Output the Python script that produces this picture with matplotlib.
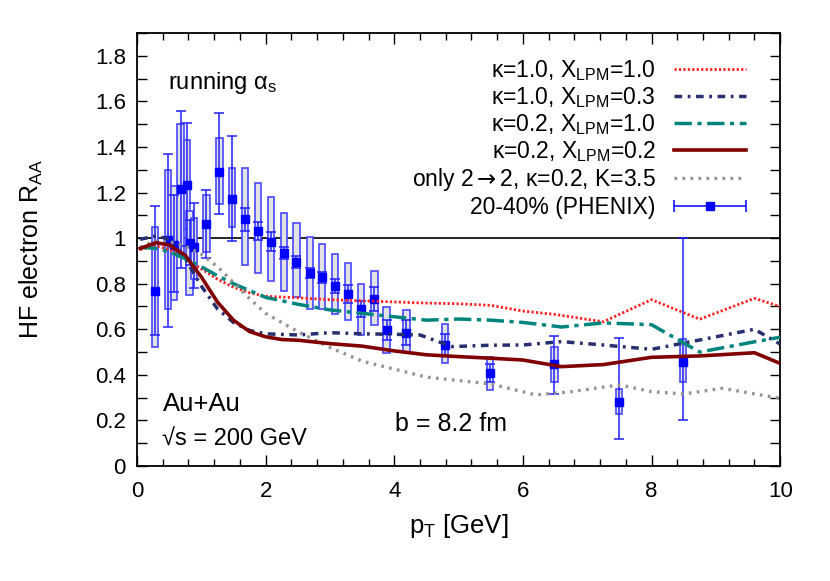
import matplotlib
matplotlib.use('Agg')
import matplotlib.pyplot as plt
import numpy as np
from matplotlib.ticker import MultipleLocator, FuncFormatter
from matplotlib.legend_handler import HandlerErrorbar

plt.rcParams['font.family'] = ['Liberation Sans', 'DejaVu Sans']
plt.rcParams['mathtext.fontset'] = 'custom'
plt.rcParams['mathtext.rm'] = 'Liberation Sans'
plt.rcParams['mathtext.it'] = 'Liberation Sans:italic'
plt.rcParams['mathtext.sf'] = 'DejaVu Sans'

# --- model curves ---
pt_red = [0.05, 0.3, 0.5, 0.75, 1.0, 1.25, 1.5, 1.75, 2.0, 2.5, 3.0, 3.5, 4.0, 4.5,
          5.0, 5.5, 6.0, 6.5, 7.25, 8.0, 8.75, 9.6, 10.0]
raa_red = [0.95, 0.965, 0.95, 0.91, 0.865, 0.82, 0.785, 0.76, 0.745, 0.738, 0.73, 0.725,
           0.72, 0.715, 0.712, 0.705, 0.68, 0.665, 0.633, 0.73, 0.644, 0.736, 0.70]

pt_navy = [0.05, 0.3, 0.5, 0.75, 1.0, 1.25, 1.5, 1.75, 2.0, 2.5, 3.0, 3.5, 4.0, 4.4,
           4.9, 5.5, 6.0, 6.6, 7.25, 8.0, 8.75, 9.6, 10.0]
raa_navy = [0.995, 1.01, 0.995, 0.91, 0.79, 0.69, 0.63, 0.595, 0.58, 0.575, 0.585, 0.58,
            0.578, 0.575, 0.524, 0.53, 0.531, 0.546, 0.531, 0.512, 0.553, 0.60, 0.535]

pt_teal = [0.05, 0.3, 0.5, 0.75, 1.0, 1.25, 1.5, 1.75, 2.0, 2.5, 3.0, 3.5, 4.0, 4.5,
           5.0, 5.5, 6.0, 6.6, 7.25, 8.0, 8.75, 9.6, 10.0]
raa_teal = [0.96, 0.955, 0.94, 0.91, 0.875, 0.835, 0.80, 0.77, 0.74, 0.71, 0.685, 0.67,
            0.655, 0.64, 0.645, 0.64, 0.63, 0.61, 0.628, 0.62, 0.50, 0.545, 0.565]

pt_dred = [0.05, 0.3, 0.5, 0.75, 1.0, 1.25, 1.5, 1.75, 2.0, 2.25, 2.5, 3.0, 3.5, 4.0,
           4.5, 5.0, 5.5, 6.0, 6.6, 7.25, 8.0, 8.75, 9.6, 10.0]
raa_dred = [0.955, 0.98, 0.97, 0.925, 0.83, 0.72, 0.64, 0.59, 0.567, 0.555, 0.552, 0.537,
            0.526, 0.505, 0.488, 0.48, 0.473, 0.465, 0.436, 0.445, 0.477, 0.483, 0.497, 0.45]

pt_gray = [0.05, 0.25, 0.5, 0.75, 1.0, 1.25, 1.5, 1.75, 2.0, 2.5, 3.0, 3.5, 4.0, 4.5,
           5.0, 5.5, 6.2, 6.75, 7.5, 8.0, 8.5, 9.1, 10.0]
raa_gray = [0.96, 0.985, 0.985, 0.965, 0.93, 0.875, 0.805, 0.735, 0.67, 0.59, 0.52, 0.46,
            0.425, 0.39, 0.375, 0.36, 0.312, 0.326, 0.356, 0.326, 0.316, 0.341, 0.297]

# --- PHENIX 20-40% data ---
pt_data = [0.28, 0.48, 0.58, 0.68, 0.78, 0.82, 0.89, 1.08, 1.28, 1.48, 1.68, 1.88, 2.08,
           2.29, 2.48, 2.69, 2.88, 3.08, 3.28, 3.48, 3.69, 3.88, 4.19, 4.79, 5.49, 6.49,
           7.49, 8.49]
raa_data = [0.77, 0.99, 0.97, 1.215, 1.234, 0.98, 0.963, 1.062, 1.29, 1.17, 1.083, 1.033,
            0.985, 0.934, 0.895, 0.849, 0.828, 0.79, 0.755, 0.688, 0.732, 0.597, 0.585,
            0.531, 0.407, 0.448, 0.28, 0.458]
stat_lo = [0.195, 0.38, 0.205, 0.345, 0.27, 0.10, 0.18, 0.15, 0.184, 0.184, 0.05, 0.04,
           0.04, 0.025, 0.025, 0.022, 0.025, 0.03, 0.04, 0.036, 0.053, 0.042, 0.056,
           0.05, 0.04, 0.132, 0.162, 0.258]
stat_hi = [0.37, 0.38, 0.22, 0.345, 0.273, 0.10, 0.192, 0.148, 0.26, 0.28, 0.05, 0.04,
           0.04, 0.025, 0.025, 0.022, 0.025, 0.03, 0.04, 0.036, 0.053, 0.042, 0.056,
           0.05, 0.04, 0.124, 0.28, 0.542]
sys_lo = [0.52, 0.69, 0.73, 0.935, 1.04, 0.75, 0.82, 0.94, 1.15, 1.05, 0.88, 0.846, 0.81,
          0.77, 0.74, 0.69, 0.69, 0.666, 0.64, 0.575, 0.62, 0.497, 0.50, 0.45, 0.334,
          0.37, 0.228, 0.367]
sys_hi = [1.05, 1.30, 1.23, 1.50, 1.43, 1.12, 1.09, 1.19, 1.44, 1.31, 1.31, 1.24, 1.18,
          1.11, 1.065, 1.004, 0.973, 0.93, 0.89, 0.80, 0.857, 0.697, 0.685, 0.622, 0.48,
          0.52, 0.337, 0.556]

fig = plt.figure(figsize=(8.3, 5.81), dpi=100)
ax = fig.add_axes([0.165, 0.198, 0.775, 0.745])

ax.axhline(1.0, color='black', lw=1.2, zorder=1)

# systematic boxes
heights = np.array(sys_hi) - np.array(sys_lo)
ax.bar(pt_data, heights, bottom=sys_lo, width=0.1, color='#e2e2e2',
       edgecolor='#4848ff', linewidth=1.2, zorder=2)
# statistical errors + points
ax.errorbar(pt_data, raa_data, yerr=[stat_lo, stat_hi], fmt='s', color='#0000ff',
            ms=6, capsize=3.5, elinewidth=1.1, capthick=1.1, ecolor='#2020ff', zorder=3)

l1, = ax.plot(pt_red, raa_red, color='#ff2020', lw=2.0, ls=(0, (0.8, 0.8)), zorder=4)
l2, = ax.plot(pt_navy, raa_navy, color='#26306e', lw=2.5, ls=(0, (2.2, 1.6, 0.8, 1.6)), zorder=4)
l3, = ax.plot(pt_teal, raa_teal, color='#00857d', lw=2.5, ls=(0, (5, 1.6, 1.2, 1.6)), zorder=4)
l4, = ax.plot(pt_dred, raa_dred, color='#800000', lw=2.6, zorder=5)
l5, = ax.plot(pt_gray, raa_gray, color='#939393', lw=2.4, ls=(0, (0.8, 1.6)), zorder=4)

# legend proxy for the data (horizontal bar with caps, as in the original)
leg_err = ax.errorbar([np.nan], [np.nan], xerr=[0.1], fmt='s', color='#0000ff', ms=6,
                      capsize=4.5, elinewidth=1.1, capthick=1.1)

ax.set_xlim(0, 10)
ax.set_ylim(0, 1.9)
ax.xaxis.set_major_locator(MultipleLocator(2))
ax.xaxis.set_minor_locator(MultipleLocator(0.4))
ax.yaxis.set_major_locator(MultipleLocator(0.2))
ax.yaxis.set_minor_locator(MultipleLocator(0.1))
fmt = FuncFormatter(lambda v, p: '%g' % round(v, 2))
ax.xaxis.set_major_formatter(fmt)
ax.yaxis.set_major_formatter(fmt)
ax.tick_params(which='both', direction='in', top=True, right=True, labelsize=16, width=1.0)
ax.tick_params(axis='x', which='major', length=8, pad=11)
ax.tick_params(axis='x', which='minor', length=5)
ax.tick_params(axis='y', which='both', length=7, pad=8)
for s in ax.spines.values():
    s.set_linewidth(1.3)

ax.set_xlabel('p$_{\\mathrm{T}}$ [GeV]', fontsize=18.5, labelpad=7)
ax.set_ylabel('HF electron R$_{\\mathrm{AA}}$', fontsize=18, labelpad=36)

ax.text(0.48, 1.68, 'running α$_{\\mathrm{s}}$', fontsize=17, va='center')
ax.text(0.4, 0.27, 'Au+Au', fontsize=18.5, va='center')
ax.text(0.39, 0.115, '√s = 200 GeV', fontsize=17, va='center')
ax.text(4.01, 0.185, 'b = 8.2 fm', fontsize=18, va='center')

handles = [l1, l2, l3, l4, l5, leg_err]
labels = ['κ=1.0, X$_{\\mathrm{LPM}}$=1.0', 'κ=1.0, X$_{\\mathrm{LPM}}$=0.3',
          'κ=0.2, X$_{\\mathrm{LPM}}$=1.0', 'κ=0.2, X$_{\\mathrm{LPM}}$=0.2',
          'only 2$\\mathsf{\\rightarrow}$2, κ=0.2, K=3.5', '20-40% (PHENIX)']
ax.legend(handles, labels, loc='upper right', bbox_to_anchor=(0.968, 0.975),
          frameon=False, markerfirst=False, fontsize=16.5, handlelength=3.15,
          handletextpad=0.78, labelspacing=0.1, borderaxespad=0.2,
          handler_map={type(leg_err): HandlerErrorbar(xerr_size=1.57)})

fig.savefig('out.png', dpi=100)
